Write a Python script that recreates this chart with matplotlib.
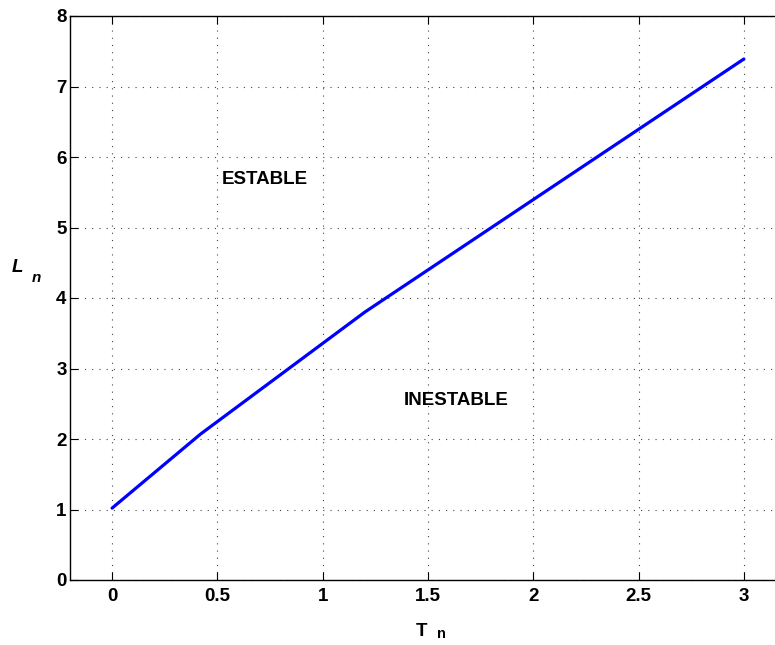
import matplotlib
matplotlib.use("Agg")
import matplotlib.pyplot as plt

# Stability boundary L_n versus T_n
t_n = [0.0, 0.42, 1.2, 3.0]
l_n = [1.02, 2.07, 3.80, 7.39]

x_ticks = [0, 0.5, 1, 1.5, 2, 2.5, 3]
x_tick_labels = ["0", "0.5", "1", "1.5", "2", "2.5", "3"]
y_ticks = [0, 1, 2, 3, 4, 5, 6, 7, 8]

plt.rcParams['font.family'] = ['Liberation Sans', 'DejaVu Sans']
plt.rcParams['font.weight'] = 'bold'

FS = 13.5
W, H = 775, 645
fig = plt.figure(figsize=(W / 100, H / 100), dpi=100)
ax = fig.add_axes([70 / W, (H - 580) / H, (786 - 70) / W, (580 - 16) / H])

ax.plot(t_n, l_n, color=(0, 0, 1), linewidth=2.3, solid_capstyle='round')

ax.set_xlim(-0.2, 3.2)
ax.set_ylim(0, 8)
ax.set_xticks(x_ticks)
ax.set_xticklabels(x_tick_labels)
ax.set_yticks(y_ticks)
ax.tick_params(direction='in', length=5.5, width=0.8, labelsize=FS,
               top=True, right=True)
ax.tick_params(axis='x', pad=5.5)
ax.tick_params(axis='y', pad=2.5)
for lbl in ax.get_xticklabels() + ax.get_yticklabels():
    lbl.set_fontweight('bold')
for s in ax.spines.values():
    s.set_linewidth(1.0)

ax.grid(True, linestyle=(0, (1, 5.5)), color='#444444', linewidth=0.8)
ax.set_axisbelow(True)

ax.text(0.724, 5.68, "ESTABLE", fontsize=FS, fontweight='bold',
        ha='center', va='center')
ax.text(1.636, 2.55, "INESTABLE", fontsize=FS, fontweight='bold',
        ha='center', va='center')

# Axis labels with lowered subscripts
fig.text(17.7 / W, 1 - 268 / H, "L", fontsize=FS, fontweight='bold',
         style='italic', ha='center', va='center')
fig.text(36 / W, 1 - 278 / H, "n", fontsize=11, fontweight='bold',
         style='italic', ha='center', va='center')
fig.text(422 / W, 1 - 631.5 / H, "T", fontsize=FS, fontweight='bold',
         ha='center', va='center')
fig.text(441 / W, 1 - 634.5 / H, "n", fontsize=10.5, fontweight='bold',
         ha='center', va='center')

fig.savefig("out.png", dpi=100)
